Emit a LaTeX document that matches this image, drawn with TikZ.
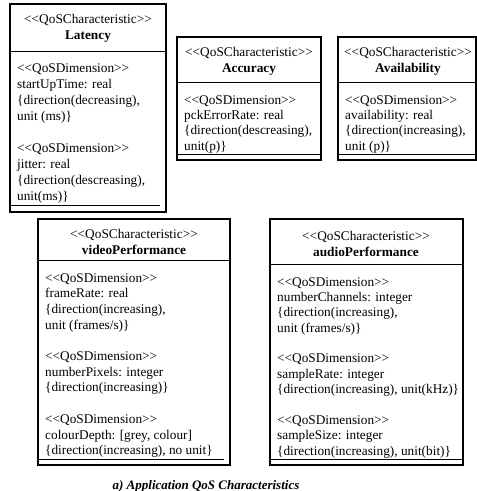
\documentclass[tikz,border=0pt]{standalone}
\usepackage{fontspec}
\setmainfont{Liberation Serif}
\newcommand\qdim{<{}<QoSDimension>{}>}
\newcommand\qchar{<{}<QoSCharacteristic>{}>}
\begin{document}
\begin{tikzpicture}[x=1pt,y=-1pt,
  frame/.style={draw,line width=1.1pt},
  sepline/.style={line width=0.9pt},
  botline/.style={line width=2pt},
  txt/.style={inner sep=0pt,anchor=base west,font=\fontsize{13.3}{15}\selectfont},
  hdr/.style={inner sep=0pt,anchor=base,font=\fontsize{13.3}{15}\selectfont},
  hdrb/.style={inner sep=0pt,anchor=base,font=\fontsize{13.3}{15}\selectfont\bfseries},
  capt/.style={inner sep=0pt,anchor=base,font=\fontsize{13}{15}\selectfont\bfseries\itshape}]
\useasboundingbox (0,0) rectangle (477,491);

% ---------- Latency ----------
\draw[frame] (10,4) rectangle (166,212);
\draw[sepline] (10,51) -- (166,51);
\draw[sepline] (10,205) -- (160,205);
\draw[botline] (10,212) -- (166,212);
\node[hdr]  (lath1) at (88,23) {\qchar};
\node[hdrb] (lath2) at (88,39) {Latency};
\node[txt] (lat1) at (17,72)    {\qdim};
\node[txt] (lat2) at (17,88.1)  {startUpTime: real};
\node[txt] (lat3) at (17,104.2) {\{direction(decreasing),};
\node[txt] (lat4) at (17,120.3) {unit (ms)\}};
\node[txt] (lat5) at (17,152.5) {\qdim};
\node[txt] (lat6) at (17,168.6) {jitter: real};
\node[txt] (lat7) at (17,184.7) {\{direction(descreasing),};
\node[txt] (lat8) at (17,200.8) {unit(ms)\}};

% ---------- Accuracy ----------
\draw[frame] (177,37) rectangle (321,160);
\draw[sepline] (177,82) -- (321,82);
\draw[sepline] (177,154) -- (321,154);
\draw[botline] (177,160) -- (321,160);
\node[hdr]  (acch1) at (249,56) {\qchar};
\node[hdrb] (acch2) at (249,72) {Accuracy};
\node[txt] (acc1) at (184,104)   {\qdim};
\node[txt] (acc2) at (184,119.3) {pckErrorRate: real};
\node[txt] (acc3) at (184,134.6) {\{direction(descreasing),};
\node[txt] (acc4) at (184,150)   {unit(p)\}};

% ---------- Availability ----------
\draw[frame] (338,37) rectangle (476,160);
\draw[sepline] (338,82) -- (476,82);
\draw[sepline] (338,154) -- (476,154);
\draw[botline] (338,160) -- (476,160);
\node[hdr]  (avah1) at (408,56) {\qchar};
\node[hdrb] (avah2) at (408,72) {Availability};
\node[txt] (ava1) at (345,104)   {\qdim};
\node[txt] (ava2) at (345,119.3) {availability: real};
\node[txt] (ava3) at (345,134.6) {\{direction(increasing),};
\node[txt] (ava4) at (345,150)   {unit (p)\}};

% ---------- videoPerformance ----------
\draw[frame] (38,219) rectangle (230,465);
\draw[sepline] (38,260) -- (230,260);
\draw[sepline] (38,459) -- (224,459);
\draw[botline] (38,465) -- (230,465);
\node[hdr]  (vidh1) at (134,238) {\qchar};
\node[hdrb] (vidh2) at (134,254) {videoPerformance};
\node[txt] (vid1)  at (45,282)   {\qdim};
\node[txt] (vid2)  at (45,297.7) {frameRate: real};
\node[txt] (vid3)  at (45,313.4) {\{direction(increasing),};
\node[txt] (vid4)  at (45,329.1) {unit (frames/s)\}};
\node[txt] (vid5)  at (45,360.5) {\qdim};
\node[txt] (vid6)  at (45,376.2) {numberPixels: integer};
\node[txt] (vid7)  at (45,391.9) {\{direction(increasing)\}};
\node[txt] (vid8)  at (45,423.3) {\qdim};
\node[txt] (vid9)  at (45,439)   {colourDepth: [grey, colour]};
\node[txt] (vid10) at (45,454.7) {\{direction(increasing), no unit\}};

% ---------- audioPerformance ----------
\draw[frame] (270,219) rectangle (463,465);
\draw[sepline] (270,264) -- (463,264);
\draw[sepline] (270,459) -- (463,459);
\draw[botline] (270,465) -- (463,465);
\node[hdr]  (audh1) at (366,240) {\qchar};
\node[hdrb] (audh2) at (366,256) {audioPerformance};
\node[txt] (aud1)  at (277,286)   {\qdim};
\node[txt] (aud2)  at (277,301.4) {numberChannels: integer};
\node[txt] (aud3)  at (277,316.7) {\{direction(increasing),};
\node[txt] (aud4)  at (277,332.1) {unit (frames/s)\}};
\node[txt] (aud5)  at (277,362.8) {\qdim};
\node[txt] (aud6)  at (277,378.2) {sampleRate: integer};
\node[txt] (aud7)  at (277,393.5) {\{direction(increasing), unit(kHz)\}};
\node[txt] (aud8)  at (277,424.2) {\qdim};
\node[txt] (aud9)  at (277,439.6) {sampleSize: integer};
\node[txt] (aud10) at (277,455)   {\{direction(increasing), unit(bit)\}};

% ---------- caption ----------
\node[capt] (cap) at (206,489.5) {a) Application QoS Characteristics};
\end{tikzpicture}
\end{document}
